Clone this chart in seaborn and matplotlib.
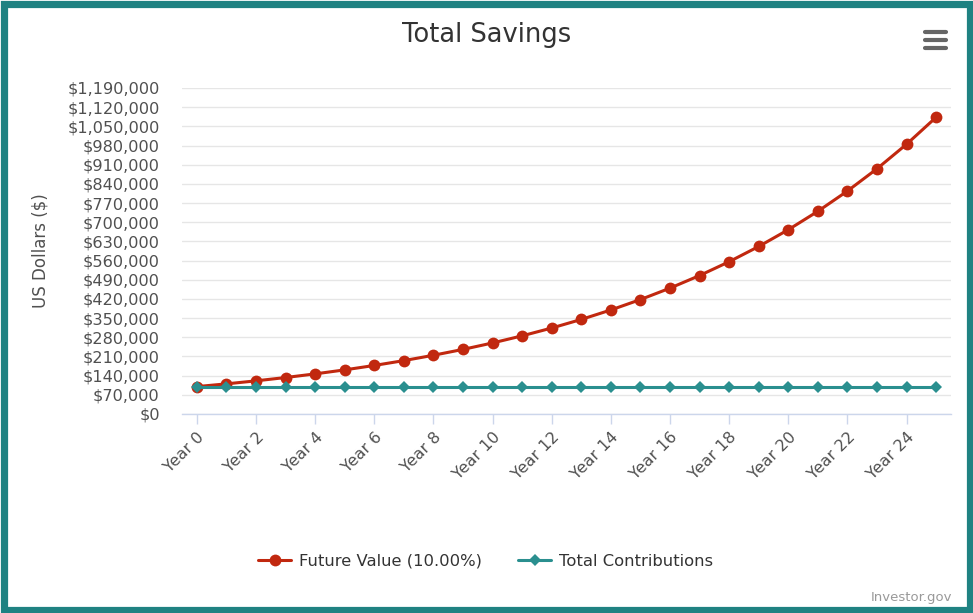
import numpy as np
import pandas as pd
import matplotlib.pyplot as plt
import seaborn as sns
from matplotlib.patches import Rectangle
from matplotlib.lines import Line2D
from matplotlib.ticker import FuncFormatter, MultipleLocator

# values
years = list(range(26))
future_value = [100000, 110000, 121000, 133100, 146410, 161051, 177156, 194872,
                214359, 235795, 259374, 285312, 313843, 345227, 379750, 417725,
                459497, 505447, 555992, 611591, 672750, 740025, 814027, 895430,
                984973, 1083471]
contributions = [100000] * 26
year_labels = [f"Year {y}" for y in years]

df = pd.DataFrame({"year": years, "fv": future_value, "tc": contributions})

sns.set_style("white")
plt.rcParams['font.family'] = ['DejaVu Sans']

red = '#c1280f'
teal = '#2a8f8f'
border = '#1f8282'

fig = plt.figure(figsize=(9.73, 6.13), dpi=100)
ax = fig.add_axes([182 / 973, 1 - 414 / 613, (951 - 182) / 973, (414 - 88) / 613])

sns.lineplot(data=df, x="year", y="fv", ax=ax, color=red, lw=2.2, marker='o',
             markersize=8.5, markeredgewidth=0, label="Future Value (10.00%)", zorder=3)
sns.lineplot(data=df, x="year", y="tc", ax=ax, color=teal, lw=2.2, marker='D',
             markersize=6.5, markeredgewidth=0, label="Total Contributions", zorder=4)

ax.set_xlim(-0.5, 25.5)
ax.set_ylim(0, 1190000)
ax.yaxis.set_major_locator(MultipleLocator(70000))
ax.yaxis.set_major_formatter(FuncFormatter(lambda v, p: f"${v:,.0f}"))
ax.grid(axis='y', color='#e6e6e6', lw=1)
ax.set_axisbelow(True)
for s in ['top', 'right', 'left']:
    ax.spines[s].set_visible(False)
ax.spines['bottom'].set_color('#ccd6eb')
ax.spines['bottom'].set_linewidth(1)

ax.set_xticks(years[::2])
ax.set_xticklabels(year_labels[::2], rotation=45, ha='right', rotation_mode='anchor',
                   fontsize=11.5, color='#505050')
ax.tick_params(axis='x', length=7, width=1, color='#ccd6eb', pad=4, bottom=True)
ax.tick_params(axis='y', length=0, pad=16, labelsize=11.6, labelcolor='#505050')

ax.set_xlabel("")
ax.set_ylabel("US Dollars ($)", fontsize=12, color='#505050')
ax.yaxis.set_label_coords(-0.172, 0.5)

fig.text(0.5, 1 - 35 / 613, "Total Savings", ha='center', va='center',
         fontsize=18.5, color='#333333')

leg = ax.legend(loc='center', bbox_to_anchor=(486 / 973, 1 - 561 / 613),
                bbox_transform=fig.transFigure, ncol=2, frameon=False,
                fontsize=11.8, handlelength=2.0, columnspacing=2.2, handletextpad=0.5)
for t in leg.get_texts():
    t.set_color('#333333')

fig.text(952 / 973, 1 - 597 / 613, "Investor.gov", ha='right', va='center',
         fontsize=9.5, color='#999999')

# menu icon
for yy in [32, 40, 48]:
    fig.add_artist(Line2D([925 / 973, 946 / 973], [1 - yy / 613] * 2, color='#666666',
                          lw=3, solid_capstyle='round'))

# outer border
fig.add_artist(Rectangle((3.5 / 973, 3.5 / 613), 1 - 7 / 973, 1 - 7 / 613,
                         transform=fig.transFigure, fill=False, edgecolor=border,
                         lw=5.2, zorder=10))

fig.savefig("out.png", dpi=100)
